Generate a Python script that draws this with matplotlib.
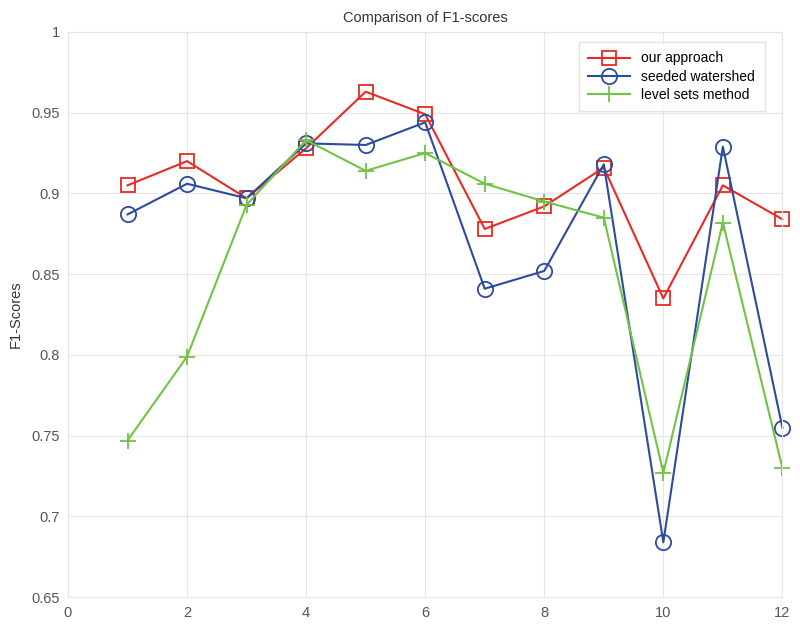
import numpy as np
import matplotlib.pyplot as plt

plt.rcParams['font.family'] = ['Liberation Sans', 'DejaVu Sans']

x = np.arange(1, 13)
our_approach = [0.905, 0.920, 0.897, 0.928, 0.963, 0.949, 0.878, 0.892, 0.916, 0.835, 0.905, 0.884]
seeded_watershed = [0.887, 0.906, 0.897, 0.931, 0.930, 0.944, 0.841, 0.852, 0.918, 0.684, 0.929, 0.755]
level_sets = [0.747, 0.799, 0.893, 0.933, 0.914, 0.925, 0.906, 0.895, 0.885, 0.727, 0.882, 0.730]

fig = plt.figure(figsize=(8, 6.26), dpi=100)
ax = fig.add_axes([0.085, 0.046, 0.893, 0.903])

ax.plot(x, our_approach, color='#e82a24', marker='s', markersize=10,
        markerfacecolor='none', markeredgewidth=1.3, linewidth=1.5,
        label='our approach', clip_on=False)
ax.plot(x, seeded_watershed, color='#2c4b9e', marker='o', markersize=11,
        markerfacecolor='none', markeredgewidth=1.3, linewidth=1.5,
        label='seeded watershed', clip_on=False)
ax.plot(x, level_sets, color='#72c244', marker='+', markersize=11,
        markeredgewidth=1.3, linewidth=1.5, label='level sets method',
        clip_on=False)

ax.set_xlim(0, 12)
ax.set_ylim(0.65, 1.0)
ax.set_xticks(np.arange(0, 13, 2))
ax.set_yticks(np.arange(0.65, 1.001, 0.05))
ax.set_yticklabels(['0.65', '0.7', '0.75', '0.8', '0.85', '0.9', '0.95', '1'])
ax.grid(True, color='#e6e6e6', linewidth=0.8)
ax.set_axisbelow(True)
for s in ax.spines.values():
    s.set_color('#e6e6e6')
ax.tick_params(length=0, labelsize=10.5, colors='#555555', pad=6)

ax.set_title('Comparison of F1-scores', fontsize=10.5, color='#333333', pad=7)
ax.set_ylabel('F1-Scores', fontsize=10.5, color='#333333', labelpad=6)

leg = ax.legend(loc='upper right', fontsize=10, frameon=True, fancybox=False,
                edgecolor='#dddddd', handlelength=3, borderpad=0.7,
                labelspacing=0.3, bbox_to_anchor=(0.985, 0.995))

fig.savefig('out.png', dpi=100)
